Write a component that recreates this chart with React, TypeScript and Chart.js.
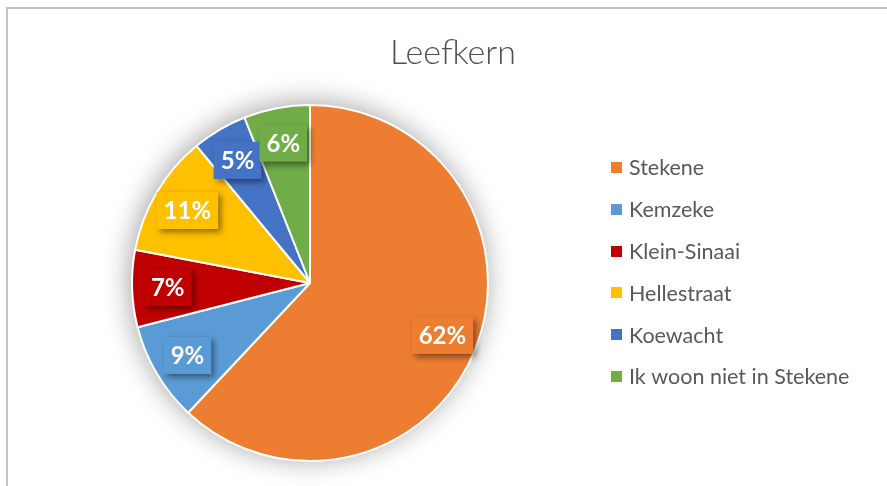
import React, { useEffect, useRef } from "react";
import { Chart, registerables } from "chart.js";

Chart.register(...registerables);

const chartTitle = "Leefkern";
const categories = [
  "Stekene",
  "Kemzeke",
  "Klein-Sinaai",
  "Hellestraat",
  "Koewacht",
  "Ik woon niet in Stekene",
];
const shares = [62, 9, 7, 11, 5, 6];
const sliceColors = ["#ED7D31", "#5B9BD5", "#C00000", "#FFC000", "#4472C4", "#70AD47"];

const TEXT_COLOR = "#595959";
const FONT = "Lato, 'Open Sans', 'Noto Sans', sans-serif";

const framePlugin = {
  id: "frame",
  beforeDraw(chart: any) {
    const ctx = chart.ctx;
    ctx.save();
    ctx.fillStyle = "#ffffff";
    ctx.fillRect(0, 0, chart.width, chart.height);
    ctx.fillStyle = "#c4c4c4";
    ctx.fillRect(6, 7, 2, chart.height - 7);
    ctx.fillRect(6, 7, chart.width - 6, 2);
    ctx.restore();
  },
};

const titlePlugin = {
  id: "customTitle",
  afterDraw(chart: any) {
    const ctx = chart.ctx;
    ctx.save();
    ctx.fillStyle = "#4f4f4f";
    ctx.font = `300 34px ${FONT}`;
    ctx.textAlign = "center";
    ctx.textBaseline = "alphabetic";
    ctx.fillText(chartTitle, 453, 64);
    ctx.restore();
  },
};

const pieShadowPlugin = {
  id: "pieShadow",
  beforeDatasetsDraw(chart: any) {
    const meta = chart.getDatasetMeta(0);
    const arc = meta.data[0];
    if (!arc) return;
    const { x, y, outerRadius } = arc.getProps(["x", "y", "outerRadius"], true);
    const ctx = chart.ctx;
    ctx.save();
    ctx.shadowColor = "rgba(0,0,0,0.38)";
    ctx.shadowBlur = 28;
    ctx.shadowOffsetX = -2;
    ctx.shadowOffsetY = -2;
    ctx.fillStyle = "#ffffff";
    ctx.beginPath();
    ctx.arc(x, y, outerRadius, 0, Math.PI * 2);
    ctx.fill();
    ctx.restore();
  },
};

const dataLabelPlugin = {
  id: "boxLabels",
  afterDatasetsDraw(chart: any) {
    const ctx = chart.ctx;
    const meta = chart.getDatasetMeta(0);
    const values = chart.data.datasets[0].data as number[];
    const colors = chart.data.datasets[0].backgroundColor as string[];
    meta.data.forEach((arc: any, i: number) => {
      const p = arc.getProps(["x", "y", "startAngle", "endAngle", "outerRadius"], true);
      const mid = (p.startAngle + p.endAngle) / 2;
      const r = p.outerRadius * 0.8;
      const cx = p.x + Math.cos(mid) * r;
      const cy = p.y + Math.sin(mid) * r;
      const text = `${values[i]}%`;
      ctx.save();
      ctx.font = `bold 24px ${FONT}`;
      const w = ctx.measureText(text).width + 14;
      const h = 37;
      ctx.shadowColor = "rgba(0,0,0,0.45)";
      ctx.shadowBlur = 6;
      ctx.shadowOffsetX = 3;
      ctx.shadowOffsetY = 3;
      ctx.fillStyle = colors[i];
      ctx.fillRect(cx - w / 2, cy - h / 2, w, h);
      ctx.shadowColor = "transparent";
      ctx.shadowBlur = 0;
      ctx.shadowOffsetX = 0;
      ctx.shadowOffsetY = 0;
      ctx.fillStyle = "#ffffff";
      ctx.textAlign = "center";
      ctx.textBaseline = "middle";
      ctx.fillText(text, cx, cy + 1);
      ctx.restore();
    });
  },
};

const legendPlugin = {
  id: "customLegend",
  afterDraw(chart: any) {
    const ctx = chart.ctx;
    const labels = chart.data.labels as string[];
    const colors = chart.data.datasets[0].backgroundColor as string[];
    ctx.save();
    ctx.font = `21.5px ${FONT}`;
    ctx.textAlign = "left";
    ctx.textBaseline = "middle";
    labels.forEach((label, i) => {
      const y = 167.5 + i * 41.8;
      ctx.fillStyle = colors[i];
      ctx.fillRect(611, Math.round(y - 5.5), 11, 11);
      ctx.fillStyle = TEXT_COLOR;
      ctx.fillText(label, 629, y + 1);
    });
    ctx.restore();
  },
};

export default function App() {
  const canvasRef = useRef<HTMLCanvasElement | null>(null);

  useEffect(() => {
    const canvas = canvasRef.current;
    if (!canvas) return;
    const chart = new Chart(canvas, {
      type: "pie",
      data: {
        labels: categories,
        datasets: [
          {
            data: shares,
            backgroundColor: sliceColors,
            borderColor: "#ffffff",
            borderWidth: 2,
            hoverOffset: 0,
          },
        ],
      },
      options: {
        responsive: false,
        animation: false,
        devicePixelRatio: 1,
        layout: { padding: { top: 104, bottom: 24, left: 131, right: 398 } },
        plugins: {
          legend: { display: false },
          title: { display: false },
          tooltip: { enabled: false },
        },
      },
      plugins: [framePlugin, pieShadowPlugin, dataLabelPlugin, titlePlugin, legendPlugin],
    });
    return () => chart.destroy();
  }, []);

  return (
    <div style={{ position: "fixed", left: 0, top: 0, width: 887, height: 486, background: "#fff" }}>
      <canvas ref={canvasRef} width={887} height={486} style={{ display: "block" }} />
    </div>
  );
}
